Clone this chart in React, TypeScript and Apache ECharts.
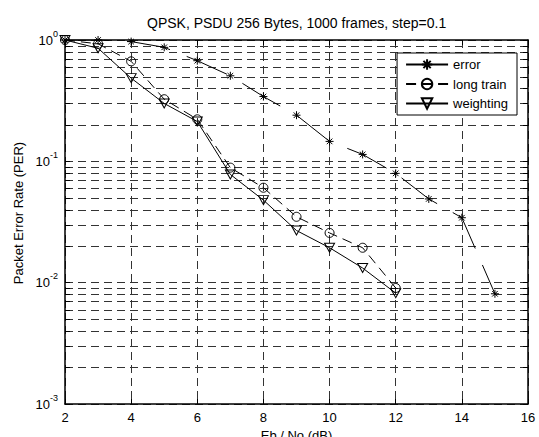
import React, { useEffect, useRef } from "react";
import * as echarts from "echarts";

const titleText = "QPSK, PSDU 256 Bytes, 1000 frames, step=0.1";
const xName = "Eb / No (dB)";
const yName = "Packet Error Rate (PER)";

const errorX = [2, 3, 4, 5, 6, 7, 8, 9, 10, 11, 12, 13, 14, 15];
const errorY = [1.0, 1.0, 0.97, 0.87, 0.675, 0.507, 0.342, 0.24, 0.146, 0.114, 0.0796, 0.049, 0.0343, 0.0081];

const longTrainX = [2, 3, 4, 5, 6, 7, 8, 9, 10, 11, 12];
const longTrainY = [1.0, 0.93, 0.667, 0.325, 0.222, 0.0887, 0.0606, 0.0349, 0.0257, 0.0194, 0.00904];

const weightingX = [2, 3, 4, 5, 6, 7, 8, 9, 10, 11, 12];
const weightingY = [1.0, 0.855, 0.485, 0.3, 0.213, 0.078, 0.0479, 0.0269, 0.0194, 0.0132, 0.0082];

const minorTicks = [
  0.002, 0.003, 0.004, 0.005, 0.006, 0.007, 0.008, 0.009,
  0.02, 0.03, 0.04, 0.05, 0.06, 0.07, 0.08, 0.09,
  0.2, 0.3, 0.4, 0.5, 0.6, 0.7, 0.8, 0.9,
];

const FONT = "'Liberation Sans', Arial, sans-serif";
const ASTERISK = "path://M0 5L10 5M5 0L5 10M1.5 1.5L8.5 8.5M8.5 1.5L1.5 8.5";

export default function App() {
  const ref = useRef<HTMLDivElement>(null);
  useEffect(() => {
    if (!ref.current) return;
    const chart = echarts.init(ref.current, null, { renderer: "svg" });
    const pairs = (xs: number[], ys: number[]) => xs.map((x, i) => [x, ys[i]]);
    const gridDash = [8, 5];
    const option: any = {
      animation: false,
      backgroundColor: "#fff",
      textStyle: { fontFamily: FONT },
      title: {
        text: titleText,
        left: 147,
        top: 15.5,
        padding: 0,
        textStyle: { fontFamily: FONT, fontSize: 14, fontWeight: "normal", color: "#000" },
      },
      legend: {
        data: ["error", "long train", "weighting"],
        orient: "vertical",
        right: 22,
        top: 53,
        padding: [5, 9, 5, 8],
        itemWidth: 42,
        itemHeight: 13,
        itemGap: 6.5,
        borderColor: "#000",
        borderWidth: 1,
        backgroundColor: "#fff",
        borderRadius: 0,
        textStyle: { fontFamily: FONT, fontSize: 13, color: "#000" },
      },
      grid: { left: 65, top: 40, width: 463, height: 364, show: false, outerBoundsMode: "none", containLabel: false },
      xAxis: [
        {
          type: "value",
          min: 2,
          max: 16,
          interval: 2,
          name: xName,
          nameLocation: "middle",
          nameGap: 20,
          nameTextStyle: { fontFamily: FONT, fontSize: 13, color: "#000" },
          axisLine: { show: true, onZero: false, lineStyle: { color: "#000", width: 1.5 } },
          axisTick: { show: true, inside: true, length: 5, lineStyle: { color: "#000" } },
          axisLabel: { margin: 7, fontFamily: FONT, fontSize: 13, color: "#000" },
          splitLine: { show: true, lineStyle: { color: "#333", type: gridDash, width: 1 } },
        },
        {
          type: "value",
          min: 2,
          max: 16,
          interval: 2,
          position: "top",
          axisLine: { show: true, onZero: false, lineStyle: { color: "#000", width: 1.5 } },
          axisTick: { show: true, inside: true, length: 5, lineStyle: { color: "#000" } },
          axisLabel: { show: false },
          splitLine: { show: false },
        },
      ],
      yAxis: [
        {
          type: "log",
          logBase: 10,
          min: 0.001,
          max: 1,
          name: yName,
          nameLocation: "middle",
          nameGap: 37,
          nameTextStyle: { fontFamily: FONT, fontSize: 13, color: "#000", padding: [0, 0, 0, 18] },
          axisLine: { show: true, onZero: false, lineStyle: { color: "#000", width: 1.5 } },
          axisTick: { show: true, inside: true, length: 5, lineStyle: { color: "#000" } },
          axisLabel: {
            margin: 7,
            formatter: (v: number) => `{b|10}{sup|${Math.round(Math.log10(v))}}`,
            rich: {
              b: { fontFamily: FONT, fontSize: 13, lineHeight: 22, color: "#000", verticalAlign: "middle" },
              sup: { fontFamily: FONT, fontSize: 9, lineHeight: 10, color: "#000", verticalAlign: "top" },
            },
          },
          splitLine: { show: true, lineStyle: { color: "#333", type: gridDash, width: 1 } },
        },
        {
          type: "log",
          logBase: 10,
          min: 0.001,
          max: 1,
          position: "right",
          axisLine: { show: true, onZero: false, lineStyle: { color: "#000", width: 1.5 } },
          axisTick: { show: true, inside: true, length: 5, lineStyle: { color: "#000" } },
          axisLabel: { show: false },
          splitLine: { show: false },
        },
      ],
      series: [
        {
          type: "custom",
          name: "minor",
          silent: true,
          xAxisIndex: 0,
          yAxisIndex: 0,
          z: 1,
          data: minorTicks.map((v) => [2, v]),
          encode: { x: 0, y: 1 },
          renderItem: (params: any, api: any) => {
            const cs = params.coordSys;
            const p = api.coord([2, api.value(1)]);
            const y = Math.round(p[1]) + 0.5;
            return {
              type: "group",
              children: [
                { type: "line", shape: { x1: cs.x, y1: y, x2: cs.x + cs.width, y2: y }, style: { stroke: "#333", lineWidth: 1, lineDash: gridDash } },
                { type: "line", shape: { x1: cs.x, y1: y, x2: cs.x + 5, y2: y }, style: { stroke: "#000", lineWidth: 1 } },
                { type: "line", shape: { x1: cs.x + cs.width - 5, y1: y, x2: cs.x + cs.width, y2: y }, style: { stroke: "#000", lineWidth: 1 } },
              ],
            };
          },
        },
        {
          type: "line",
          name: "error",
          data: pairs(errorX, errorY),
          symbol: ASTERISK,
          symbolSize: 8,
          z: 3,
          lineStyle: { color: "#000", width: 1, type: [44, 18] },
          itemStyle: { color: "transparent", borderColor: "#000", borderWidth: 1 },
          emphasis: { disabled: true },
        },
        {
          type: "line",
          name: "long train",
          data: pairs(longTrainX, longTrainY),
          symbol: "circle",
          symbolSize: 9,
          z: 3,
          lineStyle: { color: "#000", width: 1, type: [10, 6] },
          itemStyle: { color: "transparent", borderColor: "#000", borderWidth: 1 },
          emphasis: { disabled: true },
        },
        {
          type: "line",
          name: "weighting",
          data: pairs(weightingX, weightingY),
          symbol: "triangle",
          symbolRotate: 180,
          symbolSize: [10, 9],
          z: 3,
          lineStyle: { color: "#000", width: 1 },
          itemStyle: { color: "transparent", borderColor: "#000", borderWidth: 1 },
          emphasis: { disabled: true },
        },
      ],
    };
    chart.setOption(option);
    return () => chart.dispose();
  }, []);
  return (
    <div
      ref={ref}
      style={{ position: "fixed", left: 0, top: 0, width: 539, height: 437, background: "#fff" }}
    />
  );
}
